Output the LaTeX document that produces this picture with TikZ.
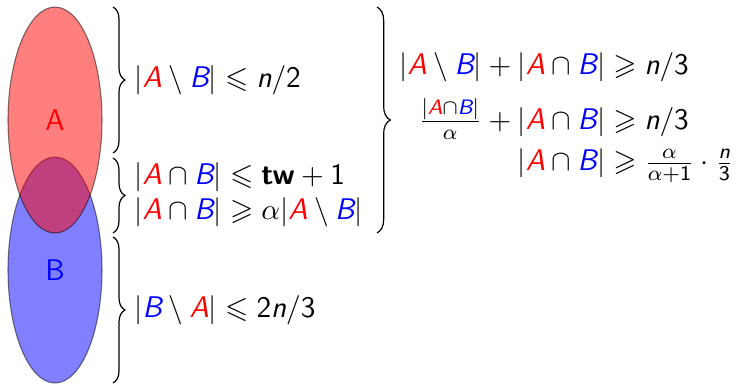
\documentclass[tikz,border=0pt]{standalone}
\usepackage{amsmath,amssymb}
\usetikzlibrary{shapes.geometric,decorations.pathreplacing}
\newcommand{\rA}{\textcolor{red}{\textsf{\itshape A}}}
\newcommand{\bB}{\textcolor{blue}{\textsf{\itshape B}}}
\newcommand{\vn}{\textsf{\itshape n}}
\newcommand{\sd}[1]{\textsf{#1}}
\tikzset{
  setshape/.style={ellipse, inner sep=0pt, minimum width=35.25pt, minimum height=84.75pt,
    draw=black, fill opacity=0.5, draw opacity=0.5, text opacity=1, line width=0.4pt,
    font=\sffamily\fontsize{11.2}{13.5}\selectfont},
  bracedeco/.style={decorate, decoration={brace, amplitude=#1}, line width=0.45pt},
  eq/.style={anchor=west, inner sep=0pt, font=\fontsize{11.2}{13.5}\selectfont}
}
\begin{document}
\begin{tikzpicture}[x=0.375pt, y=-0.375pt]
\useasboundingbox (0,0) rectangle (737,385);
\node[setshape, fill=blue, text=blue] (B) at (55,270) {B};
\node[setshape, fill=red, text=red] (A) at (55,120) {A};
% braces
\coordinate (b1t) at (113,7);
\coordinate (b1b) at (113,153);
\coordinate (b2t) at (113,158);
\coordinate (b2b) at (113,233);
\coordinate (b3t) at (113,237);
\coordinate (b3b) at (113,383);
\coordinate (b4t) at (377,7);
\coordinate (b4b) at (377,233);
\draw[bracedeco=4.5pt] (b1t) -- (b1b);
\draw[bracedeco=4.5pt] (b2t) -- (b2b);
\draw[bracedeco=4.5pt] (b3t) -- (b3b);
\draw[bracedeco=5pt] (b4t) -- (b4b);
% left inequalities
\node[eq] (t1) at (134,80) {$|\rA\setminus\bB|\leqslant \vn/\sd{2}$};
\node[eq] (t2) at (134,177) {$|\rA\cap\bB|\leqslant \textsf{\bfseries tw}+\sd{1}$};
\node[eq] (t3) at (134,212) {$|\rA\cap\bB|\geqslant \alpha|\rA\setminus\bB|$};
\node[eq] (t4) at (134,310) {$|\bB\setminus\rA|\leqslant \sd{2}\vn/\sd{3}$};
% right block
\node[eq] (t5) at (399,116) {$\begin{aligned}
|\rA\setminus\bB|+|\rA\cap\bB| &\geqslant \vn/\sd{3}\\[1pt]
\tfrac{|\rA\cap\bB|}{\alpha}+|\rA\cap\bB| &\geqslant \vn/\sd{3}\\[-1pt]
|\rA\cap\bB| &\geqslant \tfrac{\alpha}{\alpha+\sd{1}}\cdot\tfrac{\vn}{\sd{3}}
\end{aligned}$};
\end{tikzpicture}
\end{document}
